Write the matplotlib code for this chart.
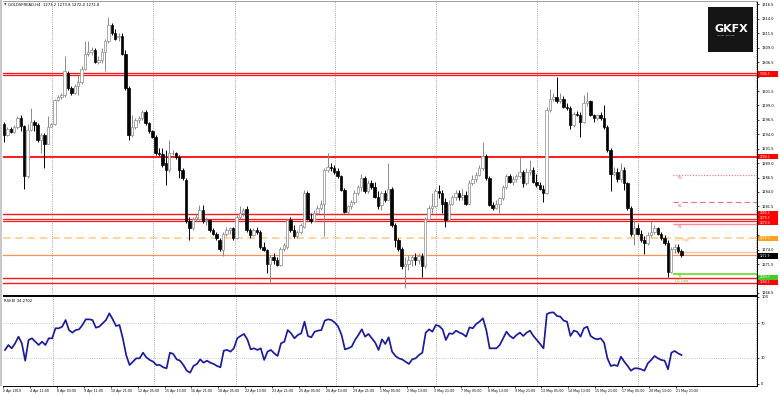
import matplotlib
matplotlib.use("Agg")
import matplotlib.pyplot as plt
import matplotlib.transforms as mtransforms
from matplotlib.patches import Rectangle
import numpy as np

W, H = 780, 395

# ---------------- data ----------------
opens = [1295.8,1293.9,1294.9,1294.4,1295.2,1296.8,1295.4,1286.7,1294.8,1296.2,
         1295.6,1293.0,1293.9,1292.4,1295.3,1295.8,1300.0,1300.5,1300.8,1304.7,
         1302.0,1301.2,1302.4,1303.1,1305.4,1308.0,1308.2,1308.6,1306.6,1306.8,
         1308.2,1310.1,1313.0,1311.6,1310.8,1311.1,1308.0,1302.0,1293.9,1295.3,
         1296.5,1296.8,1297.9,1295.9,1294.5,1293.6,1290.7,1290.6,1289.0,1287.8,
         1290.7,1290.8,1290.1,1287.8,1286.1,1278.9,1277.7,1279.3,1279.4,1280.9,
         1278.9,1279.2,1277.4,1276.8,1275.7,1274.0,1276.8,1277.4,1277.7,1276.0,
         1279.7,1280.3,1281.0,1277.4,1276.6,1277.4,1277.1,1274.5,1274.0,1271.6,
         1272.8,1272.2,1271.4,1274.2,1274.5,1279.2,1277.4,1276.3,1277.1,1278.0,
         1283.8,1279.4,1279.0,1280.3,1281.2,1282.0,1287.8,1288.4,1288.1,1287.7,
         1286.7,1284.4,1280.6,1281.5,1282.3,1283.9,1284.8,1286.4,1284.1,1285.6,
         1284.9,1283.2,1281.8,1283.8,1282.7,1284.5,1278.3,1275.7,1274.2,1271.1,
         1271.6,1272.2,1272.7,1272.2,1272.9,1271.1,1279.4,1281.2,1281.6,1284.1,
         1283.8,1282.3,1279.2,1282.0,1283.1,1283.9,1283.1,1283.5,1282.0,1285.6,
         1286.2,1286.9,1288.1,1290.3,1286.4,1281.8,1281.3,1282.0,1282.9,1284.9,
         1286.8,1285.8,1286.2,1286.8,1287.4,1285.5,1287.5,1287.8,1285.8,1285.2,
         1284.6,1283.9,1298.2,1300.2,1300.5,1299.8,1300.2,1298.8,1298.5,1295.6,
         1297.6,1297.4,1296.2,1299.4,1299.7,1297.4,1296.8,1297.4,1296.8,1295.3,
         1291.3,1287.2,1287.5,1286.2,1287.8,1285.5,1281.2,1276.8,1277.7,1276.8,
         1275.7,1275.1,1276.6,1277.1,1277.7,1276.8,1276.0,1275.2,1270.2,1274.1,
         1274.4,1273.8]
highs = [1296.2,1295.3,1295.2,1295.6,1297.2,1297.4,1295.6,1295.8,1298.5,1296.5,
         1295.9,1294.2,1294.2,1297.1,1296.0,1300.2,1300.8,1301.2,1307.5,1305.0,
         1302.3,1302.7,1304.3,1305.9,1310.1,1310.1,1309.2,1308.9,1307.5,1308.9,
         1310.5,1314.4,1313.3,1312.2,1311.6,1311.5,1308.6,1302.3,1297.4,1296.8,
         1297.2,1298.2,1298.2,1296.2,1294.8,1293.9,1291.6,1291.6,1291.3,1293.0,
         1291.2,1291.0,1290.4,1288.1,1286.4,1279.7,1279.7,1280.3,1281.7,1281.7,
         1279.7,1279.4,1277.7,1277.1,1276.0,1277.1,1278.0,1278.0,1278.0,1280.0,
         1281.5,1281.2,1281.5,1277.7,1277.7,1278.0,1277.4,1275.4,1274.2,1273.1,
         1273.4,1272.8,1274.5,1275.1,1279.4,1279.7,1278.3,1277.4,1278.7,1284.4,
         1284.1,1280.3,1280.8,1281.8,1282.6,1288.1,1290.7,1289.0,1288.7,1288.1,
         1287.0,1284.7,1281.8,1282.6,1284.4,1285.2,1287.2,1286.8,1286.1,1286.1,
         1285.8,1284.1,1284.1,1284.4,1289.0,1284.9,1278.6,1276.0,1274.5,1272.8,
         1273.1,1273.1,1273.4,1273.4,1273.4,1279.7,1281.8,1283.8,1284.6,1285.2,
         1284.4,1282.9,1282.6,1283.5,1284.4,1284.4,1284.6,1284.1,1286.1,1286.9,
         1287.5,1288.7,1292.6,1290.6,1286.7,1282.3,1282.6,1283.2,1285.2,1287.2,
         1287.2,1286.7,1287.2,1290.1,1287.8,1288.1,1289.6,1288.4,1287.2,1285.8,
         1285.2,1298.8,1301.8,1301.1,1304.0,1301.1,1300.6,1299.4,1298.9,1297.9,
         1298.1,1297.9,1300.8,1301.4,1300.0,1297.6,1297.6,1297.8,1299.1,1295.6,
         1291.6,1288.4,1288.1,1289.0,1288.4,1285.8,1281.5,1279.2,1278.5,1277.4,
         1276.3,1277.1,1278.9,1278.3,1278.0,1277.1,1276.6,1275.7,1274.5,1275.0,
         1275.0,1274.2]
lows = [1292.7,1293.7,1294.2,1294.3,1295.0,1294.6,1284.6,1286.4,1294.5,1294.6,
        1292.6,1290.7,1288.1,1292.3,1295.2,1295.6,1299.8,1300.2,1300.5,1301.7,
        1300.8,1301.0,1300.8,1302.8,1305.2,1307.5,1307.8,1306.3,1306.2,1306.4,
        1304.9,1309.8,1311.2,1310.4,1310.1,1307.8,1301.7,1293.0,1293.6,1295.0,
        1296.0,1296.5,1295.6,1294.2,1293.3,1290.4,1290.3,1288.4,1285.2,1287.5,
        1290.4,1289.8,1286.4,1286.1,1278.7,1275.7,1277.4,1278.9,1279.2,1278.6,
        1278.3,1277.1,1276.6,1275.7,1273.7,1272.9,1276.3,1276.8,1275.7,1275.8,
        1279.4,1279.8,1277.1,1276.1,1276.3,1276.8,1274.2,1273.7,1269.9,1268.2,
        1271.6,1271.1,1271.1,1273.8,1274.2,1277.1,1276.0,1276.0,1276.8,1277.7,
        1279.2,1278.7,1278.9,1280.0,1280.9,1276.3,1287.5,1287.7,1287.2,1286.4,
        1284.1,1280.3,1280.3,1281.0,1281.9,1283.5,1284.1,1283.8,1283.8,1284.6,
        1282.9,1281.0,1280.9,1282.3,1282.6,1278.0,1274.5,1273.7,1270.6,1267.3,
        1270.4,1271.1,1271.4,1271.5,1269.3,1270.8,1279.2,1280.3,1281.4,1282.9,
        1280.3,1278.0,1278.9,1281.8,1282.6,1282.6,1282.7,1281.8,1281.9,1285.2,
        1285.8,1286.7,1287.8,1286.1,1281.5,1280.9,1281.0,1280.3,1282.6,1284.6,
        1285.5,1285.2,1285.8,1286.4,1284.9,1285.2,1287.0,1285.5,1284.9,1284.4,
        1282.3,1283.7,1297.8,1299.7,1299.5,1299.5,1298.5,1298.2,1295.0,1295.3,
        1297.1,1293.6,1296.0,1298.9,1297.1,1296.2,1296.4,1296.4,1295.0,1291.0,
        1284.1,1286.7,1285.8,1285.8,1284.4,1280.9,1276.3,1274.8,1276.6,1275.4,
        1273.3,1274.8,1276.2,1276.8,1276.6,1275.7,1274.8,1269.3,1269.9,1273.5,
        1273.5,1272.7]
closes = [1293.9,1294.9,1294.4,1295.2,1296.8,1295.4,1286.7,1294.8,1296.2,1295.6,
          1293.0,1293.9,1292.4,1295.3,1295.8,1300.0,1300.5,1300.8,1304.9,1302.0,
          1301.1,1302.4,1303.1,1305.4,1308.0,1308.3,1308.6,1306.6,1306.9,1308.3,
          1310.1,1313.0,1311.5,1310.6,1311.1,1308.0,1302.0,1293.9,1295.3,1296.5,
          1296.8,1297.8,1295.9,1294.5,1293.6,1290.7,1290.6,1288.7,1287.8,1290.7,
          1290.8,1290.1,1287.8,1286.4,1278.9,1277.7,1279.4,1279.7,1280.9,1278.9,
          1279.2,1277.4,1276.8,1276.0,1274.2,1276.8,1277.4,1277.7,1276.0,1279.7,
          1280.3,1280.9,1277.4,1276.6,1277.4,1277.1,1274.5,1274.0,1271.6,1272.8,
          1272.2,1271.4,1274.2,1274.8,1279.2,1277.4,1276.3,1277.1,1278.3,1283.9,
          1279.4,1279.0,1280.3,1281.2,1282.0,1287.8,1288.4,1288.1,1287.5,1286.7,
          1284.4,1280.6,1281.5,1282.3,1283.9,1284.8,1286.4,1284.1,1285.6,1284.9,
          1283.2,1281.5,1283.8,1282.7,1284.5,1278.3,1275.7,1274.2,1271.1,1271.6,
          1272.2,1272.7,1272.2,1272.9,1271.1,1279.4,1281.2,1281.6,1284.1,1283.8,
          1282.0,1279.2,1282.0,1283.1,1283.9,1283.1,1283.5,1282.0,1285.6,1286.2,
          1286.9,1288.1,1290.3,1286.4,1281.8,1281.3,1282.0,1282.9,1284.9,1286.8,
          1285.8,1286.2,1286.8,1287.4,1285.5,1287.5,1287.8,1285.8,1285.2,1284.6,
          1283.9,1298.2,1300.2,1300.5,1299.8,1300.2,1298.8,1298.5,1295.6,1297.6,
          1297.4,1296.2,1299.4,1299.7,1297.4,1296.8,1297.4,1296.8,1295.3,1291.3,
          1287.2,1287.5,1286.2,1287.8,1285.5,1281.2,1276.8,1277.7,1276.8,1275.7,
          1275.1,1276.6,1277.1,1277.7,1276.8,1276.0,1275.2,1270.2,1274.1,1274.4,
          1273.8,1273.0]
rsi = [39.1,44.8,41.0,46.7,54.4,46.7,26.8,50.6,52.5,48.6,
       44.8,48.6,44.8,52.5,52.5,64.0,64.0,65.9,73.5,62.0,
       59.0,62.0,62.8,67.8,74.3,74.3,73.5,64.7,65.9,69.7,
       73.5,81.2,74.3,66.6,67.8,52.5,33.3,21.8,25.7,29.5,
       29.5,36.0,30.6,27.6,25.7,21.8,21.8,19.2,18.0,36.0,
       34.5,28.3,26.8,21.8,15.3,13.0,20.7,23.0,28.3,24.5,
       26.8,24.5,23.0,20.7,19.2,38.3,39.1,37.2,41.0,52.5,
       55.2,57.5,51.3,39.8,41.0,39.1,41.0,27.6,37.2,39.1,
       35.2,32.2,46.7,48.6,62.0,58.2,52.5,56.3,58.2,71.6,
       55.2,53.6,60.1,61.3,62.0,72.8,74.3,73.5,70.5,65.9,
       56.3,39.8,41.0,42.9,50.6,56.3,62.8,54.4,57.5,52.5,
       47.5,39.1,51.3,46.0,53.6,37.2,32.2,29.5,28.3,25.7,
       23.0,28.3,29.5,33.3,36.0,59.0,62.8,60.1,67.8,66.6,
       62.8,50.6,58.2,57.5,61.3,59.0,57.5,54.4,65.1,64.0,
       69.0,71.6,75.5,62.0,41.0,41.0,41.0,44.8,52.5,60.1,
       55.2,52.5,56.3,59.0,55.2,59.0,61.3,55.2,50.6,46.0,
       41.0,80.4,82.0,82.3,78.1,77.4,72.8,71.6,55.2,61.3,
       60.1,54.4,64.0,65.9,55.2,52.5,51.3,52.5,47.5,29.5,
       20.7,21.8,20.7,31.4,25.7,20.7,15.3,18.0,18.0,16.9,
       15.3,23.7,27.6,32.2,29.5,27.6,26.8,16.9,36.0,37.9,
       35.2,33.3]
time_labels = ["2 Apr 2019", "4 Apr 11:00", "8 Apr 03:00", "9 Apr 11:00", "10 Apr 21:00",
               "12 Apr 05:00", "15 Apr 13:00", "16 Apr 21:00", "18 Apr 05:00", "22 Apr 13:00",
               "23 Apr 21:00", "25 Apr 05:00", "26 Apr 13:00", "29 Apr 21:00", "1 May 05:00",
               "2 May 13:00", "3 May 21:00", "7 May 05:00", "8 May 13:00", "9 May 21:00",
               "13 May 05:00", "14 May 13:00", "15 May 21:00", "17 May 05:00", "20 May 13:00",
               "21 May 21:00"]
price_ticks = [1316.5, 1314.0, 1311.5, 1309.0, 1306.5, 1304.0, 1301.5, 1299.0, 1296.5,
               1294.0, 1291.5, 1289.0, 1286.5, 1284.0, 1281.5, 1279.0, 1276.5, 1274.0,
               1271.5, 1269.0, 1266.5]
hidden_ticks = [1304.0, 1279.0, 1276.5, 1269.0]   # covered by the coloured price boxes
red_levels = [1304.69, 1304.22, 1290.13, 1280.19, 1279.33, 1279.04, 1269.04, 1268.17]
d1_high = 1276.09
orange_level = 1273.14
pivot_r3, pivot_r2, pivot_r1 = 1286.95, 1282.27, 1278.40
pivot_p = 1273.66
pivot_s1 = 1269.71
week_starts = [14.2, 44.2, 68.5, 98.2, 128.2, 158.2, 188.0]
box_labels = [("1304.5", 1304.45, "#ff0000"),
              ("1290.1", 1290.13, "#ff0000"),
              ("1280.2", 1280.3, "#ff0000"),
              ("1279.3", 1279.5, "#ff0000"),
              ("1279.0", 1278.7, "#ff0000"),
              ("1276.1", 1276.0, "#ffa020"),
              ("1272.9", 1272.9, "#000000"),
              ("1269.7", 1269.25, "#44cc22"),
              ("1268.2", 1268.35, "#ff0000")]
header = "GOLDSPREAD,H4  1273.2 1273.8 1272.4 1272.8"
rsi_title = "RSI(8) 34.2702"

# ---------------- layout ----------------
fig = plt.figure(figsize=(W / 100, H / 100), dpi=100)
fig.patch.set_facecolor("white")
ax = fig.add_axes([3 / W, 1 - 295 / H, 754 / W, 294 / H])
rx = fig.add_axes([3 / W, 1 - 386 / H, 754 / W, 90 / H])
XMIN = -0.3
XMAX = XMIN + 754 / 3.37
ax.set_xlim(XMIN, XMAX)
ax.set_ylim(1266.15, 1317.1)
rx.set_xlim(XMIN, XMAX)
rx.set_ylim(-2.3, 101.1)

for a in (ax, rx):
    a.set_facecolor("white")
    a.spines["left"].set_visible(False)
    for s in ("right", "bottom", "top"):
        a.spines[s].set_color("black")
        a.spines[s].set_linewidth(0.7)
ax.spines["top"].set_color("#a0a0a0")

# left window border
fig.add_artist(Rectangle((0, 1 - 386 / H), 2 / W, 386 / H, transform=fig.transFigure,
                         facecolor="#c8c8c8", edgecolor="none"))

# grid (weekly dotted verticals)
for a in (ax, rx):
    for xw in week_starts + [XMAX - 0.4]:
        a.axvline(xw, color="#8a8a8a", lw=0.6, ls=(0, (1, 1.6)), zorder=1)

# ---------------- horizontal levels ----------------
red_w = [0.95, 0.95, 1.4, 1.0, 0.9, 0.9, 1.0, 1.0]
for lv, lw in zip(red_levels, red_w):
    ax.axhline(lv, color="#ff1a1a", lw=lw, zorder=5)
ax.axhline(d1_high, color="#f8cb86", lw=1.1, ls=(0, (5, 3)), zorder=5)
ax.axhline(orange_level, color="#ff9055", lw=0.9, zorder=5)

seg0 = 198.5
ax.hlines(pivot_r3, seg0, XMAX, color="#e8708a", lw=0.8, ls=(0, (1, 1.5)), zorder=5)
ax.hlines(pivot_r2, seg0, XMAX, color="#e8708a", lw=0.8, ls=(0, (5, 3)), zorder=5)
ax.hlines(pivot_r1, seg0, XMAX, color="#f3909e", lw=1.0, zorder=5)
ax.hlines(pivot_p, seg0, XMAX, color="#ffc2a8", lw=1.0, zorder=5)
ax.hlines(pivot_s1, seg0, XMAX, color="#66dd22", lw=1.2, zorder=5)

lab_kw = dict(fontsize=2.6, va="center", ha="left", zorder=6)
ax.text(200.0, pivot_r3 - 0.55, "R3", color="#e8708a", **lab_kw)
ax.text(200.0, pivot_r2 - 0.65, "R2", color="#e8708a", **lab_kw)
ax.text(200.0, pivot_r1 - 0.5, "R1", color="#e8708a", **lab_kw)
ax.text(199.0, d1_high - 0.45, "D1 High", color="#efb250", **lab_kw)
ax.text(200.0, pivot_s1 - 0.3, "S1", color="#55cc22", **lab_kw)
ax.text(199.0, 1268.5, "D1 Low", color="#55cc22", **lab_kw)

# ---------------- candles ----------------
bw = 0.72
for i, (o, h, l, c) in enumerate(zip(opens, highs, lows, closes)):
    bull = c >= o
    col = "#8a8a8a" if bull else "black"
    ax.vlines(i, l, h, color=col, lw=0.7, zorder=7)
    bottom = min(o, c)
    height = max(abs(c - o), 0.1)
    ax.add_patch(Rectangle((i - bw / 2, bottom), bw, height,
                           facecolor="white" if bull else "black",
                           edgecolor=col, lw=0.5, zorder=8))

# ---------------- price axis ----------------
ax.yaxis.tick_right()
ax.set_yticks(price_ticks)
ax.set_yticklabels(["" if p in hidden_ticks else f"{p:.1f}" for p in price_ticks])
ax.tick_params(axis="y", labelsize=2.6, length=1.5, width=0.5, pad=1.5, colors="black")
ax.set_xticks([])

btrans = mtransforms.blended_transform_factory(ax.transAxes, ax.transData)
for txt, p, fc in box_labels:
    ax.add_patch(Rectangle((1.0013, p - 0.45), 0.026, 0.9, transform=btrans,
                           facecolor=fc, edgecolor="none", clip_on=False, zorder=20))
    ax.text(1.0035, p, txt, transform=btrans, fontsize=2.2, color="white", va="center",
            ha="left", clip_on=False, zorder=21)

# ---------------- RSI ----------------
rx.plot(np.arange(len(rsi)), rsi, color="#1c1c96", lw=1.25, zorder=5)
rx.axhline(70, color="#b4b4b4", lw=0.6, ls=(0, (1, 1.6)), zorder=1)
rx.axhline(30, color="#b4b4b4", lw=0.6, ls=(0, (1, 1.6)), zorder=1)
rx.yaxis.tick_right()
rx.set_yticks([0, 30, 70, 100])
rx.set_yticklabels(["0", "30", "70", "100"])
rx.tick_params(axis="y", labelsize=2.6, length=1.5, width=0.5, pad=1.5)
xt = [8 * k - 0.6 for k in range(len(time_labels))]
rx.set_xticks(xt)
rx.set_xticklabels(time_labels)
for t in rx.get_xticklabels():
    t.set_ha("left")
rx.tick_params(axis="x", labelsize=2.3, length=1.2, width=0.5, pad=0.8)

# ---------------- texts & logo ----------------
fig.text(3.5 / W, 1 - 5 / H, "\u25bc", fontsize=2.4, va="center", ha="left", color="#404040")
fig.text(8 / W, 1 - 5 / H, header, fontsize=2.7, va="center", ha="left")
fig.text(4 / W, 1 - 300.5 / H, rsi_title, fontsize=2.7, va="center", ha="left")

fig.add_artist(Rectangle((708 / W, 1 - 52 / H), 45 / W, 45 / H, transform=fig.transFigure,
                         facecolor="#141414", edgecolor="none", zorder=30))
fig.text(731 / W, 1 - 29.5 / H, "GKFX", fontsize=8.0, fontweight="bold", color="white",
         va="center", ha="center", zorder=31)
fig.text(726 / W, 1 - 35.5 / H, "PRIME  BROKER", fontsize=1.6, color="#d0d0d0",
         va="center", ha="center", zorder=31)

fig.savefig("out.png", dpi=100, facecolor="white")
